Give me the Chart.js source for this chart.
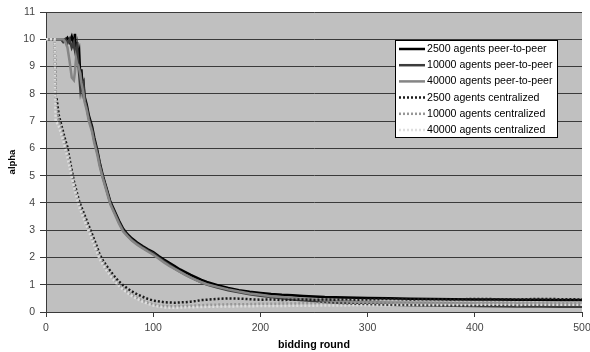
<!DOCTYPE html>
<html>
<head>
<meta charset="utf-8">
<script src="https://cdn.jsdelivr.net/npm/chart.js@4.4.1/dist/chart.umd.min.js"></script>
<style>
html,body{margin:0;padding:0;background:#fff;}
#c{display:block;}
</style>
</head>
<body>
<canvas id="c" width="590" height="352"></canvas>
<script>
// Shared x positions (bidding rounds) for all series
const rounds = [
  0,5,8,9,10,12,14,16,18,20,
  22,24,26,27,28,29,30,31,32,33,
  34,35,36,38,40,43,45,48,50,53,
  56,60,64,68,72,76,80,85,90,95,
  100,105,110,115,120,125,130,135,140,145,
  150,160,170,180,190,200,210,220,230,240,
  250,260,270,280,290,300,320,340,360,380,
  400,420,440,460,480,500
];
const seriesLabels = [
  '2500 agents peer-to-peer',
  '10000 agents peer-to-peer',
  '40000 agents peer-to-peer',
  '2500 agents centralized',
  '10000 agents centralized',
  '40000 agents centralized'
];
const p2p2500 = [
  10,10,10,10,10,10,10,10,9.95,10.05,
  9.9,10.1,9.8,10.2,9.5,9.9,9.3,9.5,8.6,8.9,
  8.3,8.4,7.9,7.6,7.2,6.8,6.4,5.9,5.5,5.0,
  4.6,4.05,3.7,3.35,3.05,2.85,2.7,2.55,2.42,2.3,
  2.2,2.05,1.92,1.8,1.68,1.56,1.46,1.36,1.27,1.18,
  1.1,0.98,0.88,0.8,0.74,0.7,0.66,0.63,0.61,0.59,
  0.57,0.55,0.54,0.53,0.52,0.51,0.5,0.49,0.48,0.47,
  0.46,0.46,0.45,0.45,0.44,0.44
];
const p2p10000 = [
  10,10,10,10,10,10,10,9.9,10,9.85,
  10,9.7,9.9,9.6,9.4,9.7,9.2,8.7,8.2,8.5,
  8.1,8.3,7.8,7.5,7.1,6.7,6.3,5.85,5.45,4.95,
  4.55,4.0,3.65,3.3,3.0,2.8,2.65,2.5,2.37,2.25,
  2.15,2.0,1.86,1.73,1.6,1.48,1.37,1.27,1.18,1.09,
  1.01,0.9,0.8,0.72,0.65,0.6,0.55,0.5,0.46,0.43,
  0.4,0.37,0.34,0.32,0.3,0.29,0.27,0.25,0.24,0.23,
  0.22,0.21,0.2,0.2,0.19,0.19
];
const p2p40000 = [
  10,10,10,10,10,10,10,10,9.9,9.7,
  9.2,8.6,8.5,8.8,9.3,9.1,9.05,8.9,8.7,8.4,
  8.2,8.0,7.7,7.4,7.0,6.6,6.2,5.75,5.35,4.9,
  4.5,3.95,3.6,3.25,2.95,2.78,2.62,2.47,2.34,2.22,
  2.1,1.96,1.82,1.69,1.58,1.47,1.36,1.26,1.17,1.09,
  1.02,0.92,0.83,0.75,0.68,0.63,0.58,0.55,0.51,0.48,
  0.46,0.43,0.41,0.4,0.38,0.37,0.35,0.34,0.33,0.32,
  0.31,0.31,0.3,0.3,0.29,0.29
];
const cen2500 = [
  10,10,10,7.9,7.8,7.2,6.9,6.6,6.3,6.05,
  5.6,5.2,4.8,4.65,4.5,4.35,4.2,4.05,3.95,3.85,
  3.75,3.65,3.55,3.35,3.15,2.85,2.65,2.35,2.1,1.9,
  1.72,1.5,1.3,1.12,0.98,0.86,0.76,0.65,0.56,0.48,
  0.42,0.39,0.36,0.35,0.34,0.35,0.36,0.38,0.4,0.44,
  0.45,0.48,0.5,0.49,0.47,0.45,0.46,0.44,0.45,0.46,
  0.44,0.46,0.45,0.47,0.45,0.46,0.48,0.46,0.47,0.46,
  0.48,0.47,0.46,0.48,0.47,0.46
];
const cen10000 = [
  10,10,10,7.6,7.4,7.0,6.7,6.4,6.1,5.8,
  5.4,5.0,4.65,4.5,4.35,4.2,4.05,3.9,3.8,3.7,
  3.6,3.5,3.4,3.2,3.0,2.7,2.5,2.2,2.0,1.8,
  1.6,1.38,1.18,1.0,0.86,0.74,0.63,0.52,0.42,0.34,
  0.28,0.24,0.22,0.21,0.21,0.22,0.22,0.23,0.24,0.25,
  0.26,0.27,0.28,0.28,0.29,0.3,0.3,0.31,0.31,0.32,
  0.32,0.33,0.33,0.34,0.34,0.34,0.35,0.34,0.35,0.35,
  0.35,0.36,0.35,0.35,0.36,0.35
];
const cen40000 = [
  10,10,10,7.0,6.95,6.8,6.55,6.3,6.0,5.7,
  5.3,4.95,4.6,4.45,4.3,4.15,4.0,3.85,3.75,3.65,
  3.55,3.45,3.35,3.15,2.95,2.65,2.45,2.15,1.95,1.75,
  1.55,1.33,1.13,0.96,0.82,0.7,0.59,0.48,0.38,0.3,
  0.24,0.2,0.17,0.16,0.16,0.16,0.17,0.17,0.18,0.18,
  0.19,0.2,0.2,0.21,0.21,0.22,0.22,0.22,0.23,0.23,
  0.23,0.24,0.24,0.24,0.25,0.25,0.25,0.26,0.26,0.26,
  0.26,0.27,0.26,0.27,0.27,0.27
];
const yTicks = [0,1,2,3,4,5,6,7,8,9,10,11];
const xTicks = [0,100,200,300,400,500];

const allValues = [p2p2500, p2p10000, p2p40000, cen2500, cen10000, cen40000];
const styles = [
  {color:'#000000', dash:[]},
  {color:'#3c3c3c', dash:[]},
  {color:'#858585', dash:[]},
  {color:'#1a1a1a', dash:[2,2]},
  {color:'#979797', dash:[2,2]},
  {color:'#dedede', dash:[2,2]}
];

const datasets = allValues.map((vals, i) => ({
  label: seriesLabels[i],
  data: rounds.map((r, k) => ({x: r, y: vals[k]})),
  borderColor: styles[i].color,
  borderDash: styles[i].dash,
  borderWidth: 2.5,
  pointRadius: 0,
  tension: 0,
  fill: false,
  order: allValues.length - i
}));

const FONT = "'Liberation Sans', Arial, sans-serif";

const plotBg = {
  id: 'plotBg',
  beforeDraw(chart) {
    const {ctx, chartArea: a} = chart;
    ctx.save();
    ctx.fillStyle = '#c0c0c0';
    ctx.fillRect(a.left, a.top, a.right - a.left, a.bottom - a.top);
    ctx.restore();
  }
};

const boxLegend = {
  id: 'boxLegend',
  afterDraw(chart) {
    const ctx = chart.ctx;
    const x0 = 395, y0 = 40, w = 162, h = 97;
    ctx.save();
    ctx.fillStyle = '#ffffff';
    ctx.fillRect(x0, y0, w, h);
    ctx.strokeStyle = '#000000';
    ctx.lineWidth = 1;
    ctx.strokeRect(x0 + 0.5, y0 + 0.5, w, h);
    chart.data.datasets.forEach((ds, i) => {
      const y = y0 + 9 + i * 16.2;
      ctx.beginPath();
      ctx.setLineDash(ds.borderDash || []);
      ctx.strokeStyle = ds.borderColor;
      ctx.lineWidth = 2.5;
      ctx.moveTo(399, y);
      ctx.lineTo(425, y);
      ctx.stroke();
      ctx.setLineDash([]);
      ctx.fillStyle = '#000000';
      ctx.font = '10.6px ' + FONT;
      ctx.textBaseline = 'middle';
      ctx.textAlign = 'left';
      ctx.fillText(ds.label, 427, y);
    });
    ctx.restore();
  }
};

new Chart(document.getElementById('c'), {
  type: 'line',
  data: { datasets },
  plugins: [plotBg, boxLegend],
  options: {
    responsive: false,
    animation: false,
    devicePixelRatio: 1,
    layout: { padding: { top: 12, right: 8, left: 0, bottom: 0 } },
    plugins: { legend: { display: false }, tooltip: { enabled: false } },
    scales: {
      x: {
        type: 'linear',
        min: xTicks[0],
        max: xTicks[xTicks.length - 1],
        afterBuildTicks(scale) { scale.ticks = xTicks.map(v => ({value: v})); },
        afterFit(scale) { scale.height = 40; scale.paddingLeft = 0; scale.paddingRight = 0; },
        ticks: { font: { size: 10.5, family: FONT }, color: '#444', padding: 5, maxRotation: 0 },
        grid: { drawOnChartArea: false, drawTicks: true, tickLength: 5, color: '#3a3a3a' },
        border: { display: true, color: '#3a3a3a' },
        title: { display: true, text: 'bidding round', font: { size: 10.7, weight: 'bold', family: FONT }, color: '#000', padding: { top: 0, bottom: 0.5 } }
      },
      y: {
        type: 'linear',
        min: yTicks[0],
        max: yTicks[yTicks.length - 1],
        afterBuildTicks(scale) { scale.ticks = yTicks.map(v => ({value: v})); },
        afterFit(scale) { scale.width = 46; scale.paddingTop = 0; scale.paddingBottom = 0; },
        ticks: { font: { size: 10.5, family: FONT }, color: '#444', padding: 5 },
        grid: { drawTicks: true, tickLength: 6, color: '#3a3a3a', lineWidth: 1 },
        border: { display: true, color: '#3a3a3a' },
        title: { display: true, text: 'alpha', font: { size: 9.5, weight: 'bold', family: FONT }, color: '#000', padding: { top: 7, bottom: 0 } }
      }
    }
  }
});
</script>
</body>
</html>
